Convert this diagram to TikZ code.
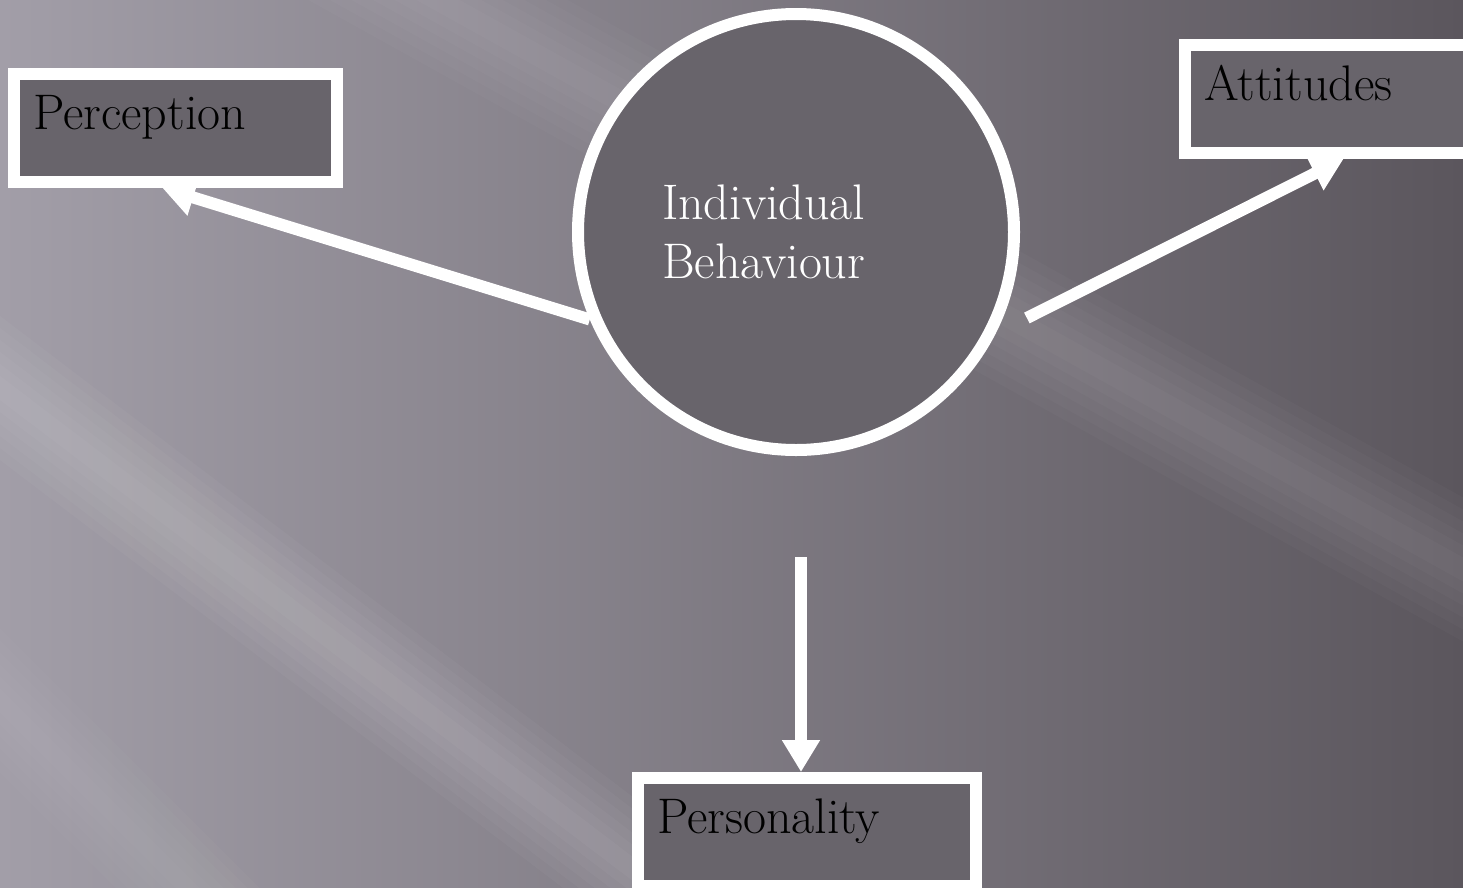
\documentclass[tikz,border=0pt]{standalone}
\usetikzlibrary{arrows.meta}

\definecolor{bgleft}{HTML}{A29EA8}
\definecolor{bgmid}{HTML}{7D7882}
\definecolor{bgright}{HTML}{5B565D}
\definecolor{boxgray}{HTML}{68646B}

\tikzset{
  box/.style={rectangle, draw=white, line width=12pt, fill=boxgray, text width=#1, align=left,
    inner xsep=19pt, inner ysep=10pt, text height=45pt, text depth=43pt, font=\fontsize{50}{59}\selectfont},
  hub/.style={circle, draw=white, line width=12pt, fill=boxgray, minimum size=436pt, text width=268pt,
    align=left, text=white, font=\fontsize{50}{59}\selectfont},
  link/.style={draw=white, line width=12pt, -{Triangle[length=32pt,width=36pt]}},
}

\begin{document}
\begin{tikzpicture}[x=1pt,y=-1pt]
        % background
        \useasboundingbox (0,0) rectangle (1463,887);
        \shade[left color=bgleft, middle color=bgmid, right color=bgright] (0,0) rectangle (1463,887);
        \begin{scope}
            \clip (0,0) rectangle (1463,887);
            \foreach \w in {12,24,...,72} {
                \fill[white, opacity=0.03] (-50,350-\w) -- (700,920-\w) -- (700,920+\w) -- (-50,350+\w) -- cycle;
                \fill[white, opacity=0.025] (150,-160-\w) -- (1500,590-\w) -- (1500,590+\w) -- (150,-160+\w) -- cycle;
                \fill[white, opacity=0.02] (-50,650-\w) -- (300,1000-\w) -- (300,1000+\w) -- (-50,650+\w) -- cycle;
            }
        \end{scope}

        % nodes
        \node[hub] (ib) at (796,232) {Individual\\Behaviour};
        \node[box=285pt] (perc) at (175.5,128) {Perception};
        \node[box=285pt] (att) at (1346.5,99) {Attitudes};
        \node[box=300pt] (pers) at (807,832) {Personality};

        % arrows
        \draw[link] (ib.203) -- ([xshift=-13pt]perc.south);
        \draw[link, shorten <=35pt] (ib.-27) -- ([xshift=-3pt]att.south);
        \draw[link, shorten <=101pt] ([xshift=5pt]ib.south) -- ([xshift=-6pt]pers.north);
\end{tikzpicture}
\end{document}
